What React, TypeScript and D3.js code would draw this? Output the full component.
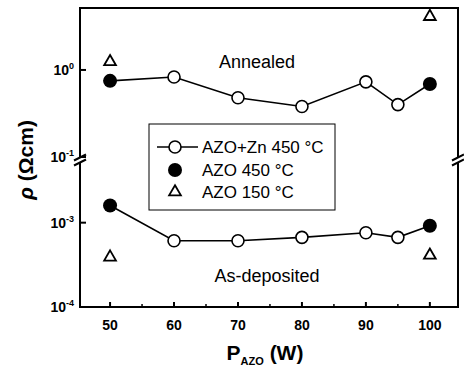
import React, { useEffect, useRef } from 'react';
import * as d3 from 'd3';

// values
const powerZn = [60, 70, 80, 90, 95];
const znAnnealed = [0.83, 0.48, 0.38, 0.73, 0.4];
const znAsDep = [6.1e-4, 6.1e-4, 6.7e-4, 7.6e-4, 6.7e-4];
const powerAzo = [50, 100];
const azo450Annealed = [0.75, 0.69];
const azo450AsDep = [1.6e-3, 9.2e-4];
const azo150Annealed = [1.24, 4.1];
const azo150AsDep = [3.9e-4, 4.1e-4];
const xTicks = [50, 60, 70, 80, 90, 100];
const xMinor = [55, 65, 75, 85, 95];
const topTicks = [{ v: 1, e: '0' }, { v: 0.1, e: '-1' }];
const botTicks = [{ v: 1e-3, e: '-3' }, { v: 1e-4, e: '-4' }];
const legendItems = ['AZO+Zn 450 °C', 'AZO 450 °C', 'AZO 150 °C'];

const font = 'Arial, "Liberation Sans", sans-serif';

export default function App() {
  const ref = useRef<SVGSVGElement>(null);

  useEffect(() => {
    const svg = d3.select(ref.current);
    svg.selectAll('*').remove();

    const left = 80, right = 458, top = 8, bottom = 307, brk = 160;
    const x = d3.scaleLinear().domain([45.3, 104.4]).range([left, right]);
    const yTop = d3.scaleLog().domain([0.1, 5.15]).range([157, top]);
    const yBot = d3.scaleLog().domain([1e-4, 5.1e-3]).range([bottom, 163]);

    // frame
    svg.append('rect').attr('x', left).attr('y', top).attr('width', right - left).attr('height', bottom - top)
      .attr('fill', 'none').attr('stroke', '#000').attr('stroke-width', 2);

    // axis break marks
    [left, right].forEach(ax => {
      const g = svg.append('g');
      g.append('rect').attr('x', ax - 6).attr('y', brk - 2).attr('width', 12).attr('height', 4).attr('fill', '#fff');
      [-2.5, 2.5].forEach(dy => {
        g.append('line').attr('x1', ax - 6).attr('x2', ax + 6)
          .attr('y1', brk + dy + 3).attr('y2', brk + dy - 3)
          .attr('stroke', '#000').attr('stroke-width', 2);
      });
    });

    // x ticks
    svg.append('g').selectAll('line').data(xTicks).join('line')
      .attr('x1', d => x(d)).attr('x2', d => x(d)).attr('y1', bottom).attr('y2', bottom - 5)
      .attr('stroke', '#000').attr('stroke-width', 2);
    svg.append('g').selectAll('line').data(xMinor).join('line')
      .attr('x1', d => x(d)).attr('x2', d => x(d)).attr('y1', bottom).attr('y2', bottom - 3)
      .attr('stroke', '#000').attr('stroke-width', 1.5);
    svg.append('g').selectAll('text').data(xTicks).join('text')
      .attr('x', d => x(d)).attr('y', 330).attr('text-anchor', 'middle')
      .attr('font-family', font).attr('font-weight', 'bold').attr('font-size', 14)
      .text(d => d);

    // y ticks
    const yTick = (ticks: { v: number; e: string }[], sc: d3.ScaleLogarithmic<number, number>) => {
      ticks.forEach(t => {
        const yy = sc(t.v);
        svg.append('line').attr('x1', left).attr('x2', left + 6).attr('y1', yy).attr('y2', yy)
          .attr('stroke', '#000').attr('stroke-width', 2);
        const tx = svg.append('text').attr('x', 74).attr('y', yy + 5).attr('text-anchor', 'end')
          .attr('font-family', font).attr('font-weight', 'bold').attr('font-size', 14);
        tx.append('tspan').text('10');
        tx.append('tspan').attr('dy', -6).attr('font-size', 9).text(t.e);
      });
    };
    yTick(topTicks, yTop);
    yTick(botTicks, yBot);

    // series lines
    const line = d3.line<[number, number]>().x(d => d[0]).y(d => d[1]);
    const upperPts: [number, number][] = [
      [x(powerAzo[0]), yTop(azo450Annealed[0])],
      ...powerZn.map((p, i) => [x(p), yTop(znAnnealed[i])] as [number, number]),
      [x(powerAzo[1]), yTop(azo450Annealed[1])],
    ];
    const lowerPts: [number, number][] = [
      [x(powerAzo[0]), yBot(azo450AsDep[0])],
      ...powerZn.map((p, i) => [x(p), yBot(znAsDep[i])] as [number, number]),
      [x(powerAzo[1]), yBot(azo450AsDep[1])],
    ];
    [upperPts, lowerPts].forEach(pts => {
      svg.append('path').attr('d', line(pts)).attr('fill', 'none').attr('stroke', '#000').attr('stroke-width', 1.6);
    });

    // open circles
    const opens = [
      ...powerZn.map((p, i) => [x(p), yTop(znAnnealed[i])]),
      ...powerZn.map((p, i) => [x(p), yBot(znAsDep[i])]),
    ];
    svg.append('g').selectAll('circle').data(opens).join('circle')
      .attr('cx', d => d[0]).attr('cy', d => d[1]).attr('r', 6)
      .attr('fill', '#fff').attr('stroke', '#000').attr('stroke-width', 1.6);

    // filled circles
    const filled = [
      ...powerAzo.map((p, i) => [x(p), yTop(azo450Annealed[i])]),
      ...powerAzo.map((p, i) => [x(p), yBot(azo450AsDep[i])]),
    ];
    svg.append('g').selectAll('circle').data(filled).join('circle')
      .attr('cx', d => d[0]).attr('cy', d => d[1]).attr('r', 7).attr('fill', '#000');

    // triangles
    const tri = d3.symbol().type(d3.symbolTriangle).size(60);
    const tris = [
      ...powerAzo.map((p, i) => [x(p), yTop(azo150Annealed[i])]),
      ...powerAzo.map((p, i) => [x(p), yBot(azo150AsDep[i])]),
    ];
    svg.append('g').selectAll('path').data(tris).join('path')
      .attr('d', tri()).attr('transform', d => `translate(${d[0]},${d[1]})`)
      .attr('fill', '#fff').attr('stroke', '#000').attr('stroke-width', 1.8);

    // annotations
    svg.append('text').attr('x', 257).attr('y', 68).attr('text-anchor', 'middle')
      .attr('font-family', font).attr('font-size', 18).text('Annealed');
    svg.append('text').attr('x', 267).attr('y', 282).attr('text-anchor', 'middle')
      .attr('font-family', font).attr('font-size', 18).text('As-deposited');

    // legend
    const lg = svg.append('g');
    lg.append('rect').attr('x', 149).attr('y', 124).attr('width', 186).attr('height', 86)
      .attr('fill', '#fff').attr('stroke', '#000').attr('stroke-width', 1);
    const ly = [147, 170, 192];
    lg.append('line').attr('x1', 157).attr('x2', 198).attr('y1', ly[0]).attr('y2', ly[0])
      .attr('stroke', '#000').attr('stroke-width', 1.6);
    lg.append('circle').attr('cx', 175).attr('cy', ly[0]).attr('r', 6)
      .attr('fill', '#fff').attr('stroke', '#000').attr('stroke-width', 1.6);
    lg.append('circle').attr('cx', 175).attr('cy', ly[1]).attr('r', 7).attr('fill', '#000');
    lg.append('path').attr('d', tri()).attr('transform', `translate(175,${ly[2]})`)
      .attr('fill', '#fff').attr('stroke', '#000').attr('stroke-width', 1.8);
    lg.selectAll('text.lt').data(legendItems).join('text').attr('class', 'lt')
      .attr('x', 202).attr('y', (d, i) => ly[i] + 6)
      .attr('font-family', font).attr('font-size', 17).text(d => d);

    // axis titles
    const xl = svg.append('text').attr('x', 265).attr('y', 360).attr('text-anchor', 'middle')
      .attr('font-family', font).attr('font-weight', 'bold').attr('font-size', 21);
    xl.append('tspan').text('P');
    xl.append('tspan').attr('dy', 5).attr('font-size', 11).text('AZO');
    xl.append('tspan').attr('dy', -5).text(' (W)');

    svg.append('text').attr('transform', 'translate(33,160) rotate(-90)').attr('text-anchor', 'middle')
      .attr('font-family', font).attr('font-weight', 'bold').attr('font-size', 21)
      .html('<tspan font-style="italic">ρ</tspan> (Ωcm)');
  }, []);

  return (
    <div style={{ position: 'absolute', left: 0, top: 0 }}>
      <svg ref={ref} width={464} height={369} style={{ display: 'block', background: '#fff' }} />
    </div>
  );
}
